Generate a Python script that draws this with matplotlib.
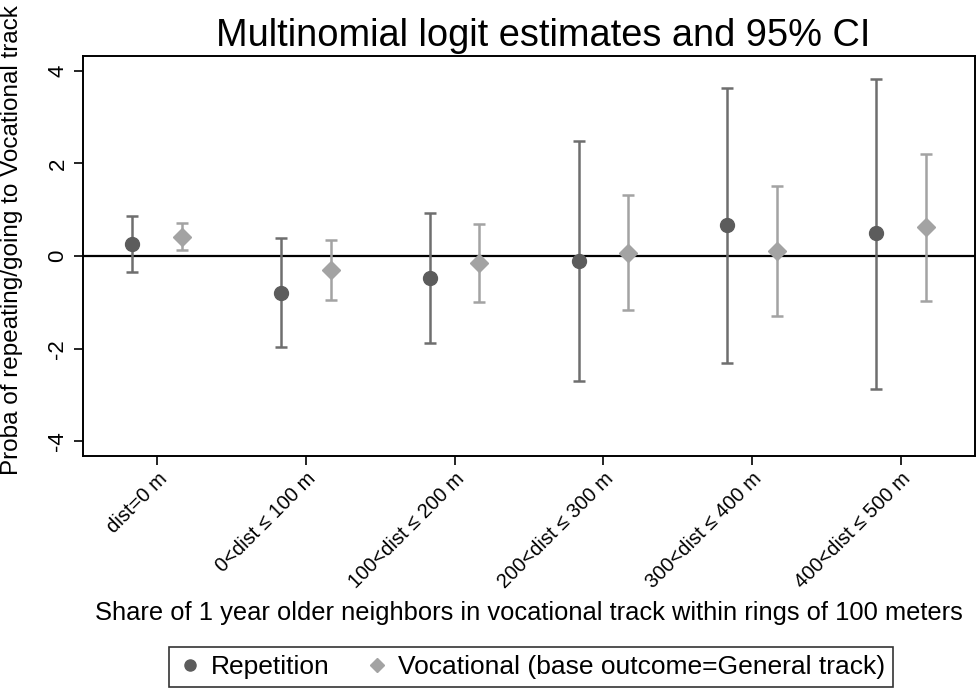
import numpy as np
import matplotlib.pyplot as plt
from matplotlib.lines import Line2D

plt.rcParams['font.family'] = ['Liberation Sans', 'DejaVu Sans']

categories = ["dist=0 m", "0<dist ≤ 100 m", "100<dist ≤ 200 m",
              "200<dist ≤ 300 m", "300<dist ≤ 400 m", "400<dist ≤ 500 m"]

rep_est = [0.25, -0.79, -0.48, -0.11, 0.66, 0.49]
rep_lo = [-0.35, -1.97, -1.87, -2.71, -2.31, -2.87]
rep_hi = [0.87, 0.38, 0.92, 2.49, 3.63, 3.83]

voc_est = [0.41, -0.30, -0.15, 0.07, 0.11, 0.62]
voc_lo = [0.12, -0.95, -1.00, -1.17, -1.29, -0.97]
voc_hi = [0.71, 0.34, 0.70, 1.31, 1.51, 2.21]

rep_color = "#5c5c5c"
rep_bar = "#6e6e6e"
voc_color = "#a3a3a3"

x = np.arange(1, len(categories) + 1)
off = 0.167

fig = plt.figure(figsize=(9.76, 6.92), dpi=100)
ax = fig.add_axes([0.085, 0.341, 0.914, 0.578])

rep_est = np.array(rep_est)
voc_est = np.array(voc_est)
rep_err = [rep_est - np.array(rep_lo), np.array(rep_hi) - rep_est]
voc_err = [voc_est - np.array(voc_lo), np.array(voc_hi) - voc_est]

ax.axhline(0, color="black", lw=1.6, zorder=1)
ax.errorbar(x - off, rep_est, yerr=rep_err, fmt="none", ecolor=rep_bar,
            elinewidth=1.8, capsize=4.5, capthick=1.8, zorder=2)
ax.plot(x - off, rep_est, "o", color=rep_color, ms=10, zorder=3)
ax.errorbar(x + off, voc_est, yerr=voc_err, fmt="none", ecolor=voc_color,
            elinewidth=1.8, capsize=4.5, capthick=1.8, zorder=2)
ax.plot(x + off, voc_est, "D", color=voc_color, ms=9, zorder=3)

ax.set_xlim(0.5, 6.5)
ax.set_ylim(-4.32, 4.32)
ax.set_yticks([-4, -2, 0, 2, 4])
ax.set_yticklabels(["-4", "-2", "0", "2", "4"], rotation=90, va="center", fontsize=16)
ax.set_xticks(x)
ax.set_xticklabels(categories, rotation=45, ha="right", rotation_mode="anchor",
                   fontsize=14.5)
ax.tick_params(axis="both", length=6.5, width=1.2, color="black")
ax.tick_params(axis="x", pad=3)
ax.tick_params(axis="y", pad=4)
for s in ax.spines.values():
    s.set_linewidth(1.4)

ax.set_title("Multinomial logit estimates and 95% CI", fontsize=27.4, pad=7, x=0.516)
ax.set_ylabel("Proba of repeating/going to Vocational track", fontsize=17.5)
ax.yaxis.set_label_coords(-0.067, 0.54)
ax.set_xlabel("Share of 1 year older neighbors in vocational track within rings of 100 meters",
              fontsize=18.4, labelpad=6)

handles = [Line2D([], [], marker="o", color=rep_color, ls="none", ms=8),
           Line2D([], [], marker="D", color=voc_color, ls="none", ms=7.5)]
leg = fig.legend(handles, ["Repetition", "Vocational (base outcome=General track)"],
                 loc="center", bbox_to_anchor=(0.544, 0.036), ncol=2, fontsize=19,
                 frameon=True, fancybox=False, edgecolor="black", handletextpad=0.3,
                 columnspacing=1.3, borderpad=0.3, handlelength=1.0)
leg.get_frame().set_linewidth(1.2)

fig.savefig("out.png", dpi=100)
plt.close(fig)
